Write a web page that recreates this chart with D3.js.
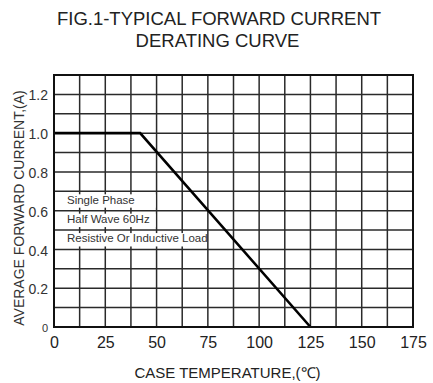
<!DOCTYPE html>
<html>
<head>
<meta charset="utf-8">
<script src="https://cdn.jsdelivr.net/npm/d3@7"></script>
<style>
  body { margin: 0; background: #fff; }
  svg { display: block; font-family: "Liberation Sans", Arial, sans-serif; }
</style>
</head>
<body>
<svg id="chart" width="433" height="383"></svg>
<script>
// chart values
const titleLines = ["FIG.1-TYPICAL FORWARD CURRENT", "DERATING CURVE"];
const xTitle = "CASE TEMPERATURE,(\u2103)";
const yTitle = "AVERAGE FORWARD CURRENT,(A)";
const tempTicks = [0, 25, 50, 75, 100, 125, 150, 175];
const currentTicks = [0, 0.2, 0.4, 0.6, 0.8, 1.0, 1.2];
const curveTemp = [0, 42, 125];
const curveCurrent = [1.0, 1.0, 0];
const noteLines = ["Single Phase", "Half Wave 60Hz", "Resistive Or Inductive Load"];
const noteRowTop = [0.7, 0.6, 0.5];     // current at top of each note row
const noteRowEnd = [50, 50, 75];        // temperature where the white box ends

const svg = d3.select("#chart");
const margin = {top: 75, right: 20, bottom: 56, left: 54};
const width = 433 - margin.left - margin.right;
const height = 383 - margin.top - margin.bottom;

const x = d3.scaleLinear().domain([0, 175]).range([0, width]);
const y = d3.scaleLinear().domain([0, 1.3]).range([height, 0]);

// title
svg.selectAll(".title")
    .data(titleLines)
    .enter()
    .append("text")
    .attr("x", (d, i) => i ? 217.5 : 219)
    .attr("y", (d, i) => 25 + i * 22)
    .attr("text-anchor", "middle")
    .style("font-size", "18.5px")
    .style("fill", "#222")
    .text(d => d);

const g = svg.append("g")
    .attr("transform", "translate(" + margin.left + "," + margin.top + ")");

// grid, one line every 12.5 degrees and every 0.1 A
g.selectAll(".vgrid")
    .data(d3.range(12.5, 175, 12.5))
    .enter()
    .append("line")
    .attr("x1", d => x(d)).attr("x2", d => x(d))
    .attr("y1", 0).attr("y2", height)
    .style("stroke", "#2a2a2a")
    .style("stroke-width", 1.5);

g.selectAll(".hgrid")
    .data(d3.range(1, 13).map(i => i / 10))
    .enter()
    .append("line")
    .attr("x1", 0).attr("x2", width)
    .attr("y1", d => y(d)).attr("y2", d => y(d))
    .style("stroke", "#2a2a2a")
    .style("stroke-width", 1.5);

// note rows: white boxes that hide the vertical grid lines
noteLines.forEach((txt, i) => {
    const top = y(noteRowTop[i]);
    const bot = y(noteRowTop[i] - 0.1);
    g.append("rect")
        .attr("x", 1)
        .attr("y", top + 3)
        .attr("width", x(noteRowEnd[i]) - 2)
        .attr("height", bot - top - 6)
        .style("fill", "#fff");
    g.append("text")
        .attr("x", 13)
        .attr("y", bot - 7)
        .style("font-size", "11.5px")
        .style("fill", "#333")
        .text(txt);
});

// derating curve
const line = d3.line()
    .x(d => x(d[0]))
    .y(d => y(d[1]));

g.append("path")
    .datum(curveTemp.map((t, i) => [t, curveCurrent[i]]))
    .attr("d", line)
    .style("fill", "none")
    .style("stroke", "#000")
    .style("stroke-width", 2.6);

// frame
g.append("rect")
    .attr("width", width)
    .attr("height", height)
    .style("fill", "none")
    .style("stroke", "#111")
    .style("stroke-width", 2);

// axes
const xAxis = g.append("g")
    .attr("transform", "translate(0," + height + ")")
    .call(d3.axisBottom(x).tickValues(tempTicks).tickSize(0).tickFormat(d3.format("d")));
xAxis.select(".domain").remove();
xAxis.selectAll("text")
    .attr("y", 21)
    .attr("dy", null)
    .style("font-size", "16px")
    .style("font-family", "Liberation Sans, Arial, sans-serif")
    .style("fill", "#222");

const yAxis = g.append("g")
    .call(d3.axisLeft(y).tickValues(currentTicks).tickSize(0).tickPadding(6)
        .tickFormat(d => d === 0 ? "0" : d3.format(".1f")(d)));
yAxis.select(".domain").remove();
yAxis.selectAll("text")
    .attr("dy", "0.4em")
    .style("font-size", d => d === 0 ? "11px" : "14px")
    .style("font-family", "Liberation Sans, Arial, sans-serif")
    .style("fill", "#333");

// axis titles
svg.append("text")
    .attr("x", 227.5)
    .attr("y", 378)
    .attr("text-anchor", "middle")
    .style("font-size", "15px")
    .style("fill", "#222")
    .text(xTitle);

svg.append("text")
    .attr("transform", "translate(24,208) rotate(-90)")
    .attr("text-anchor", "middle")
    .style("font-size", "14px")
    .style("fill", "#333")
    .text(yTitle);
</script>
</body>
</html>
